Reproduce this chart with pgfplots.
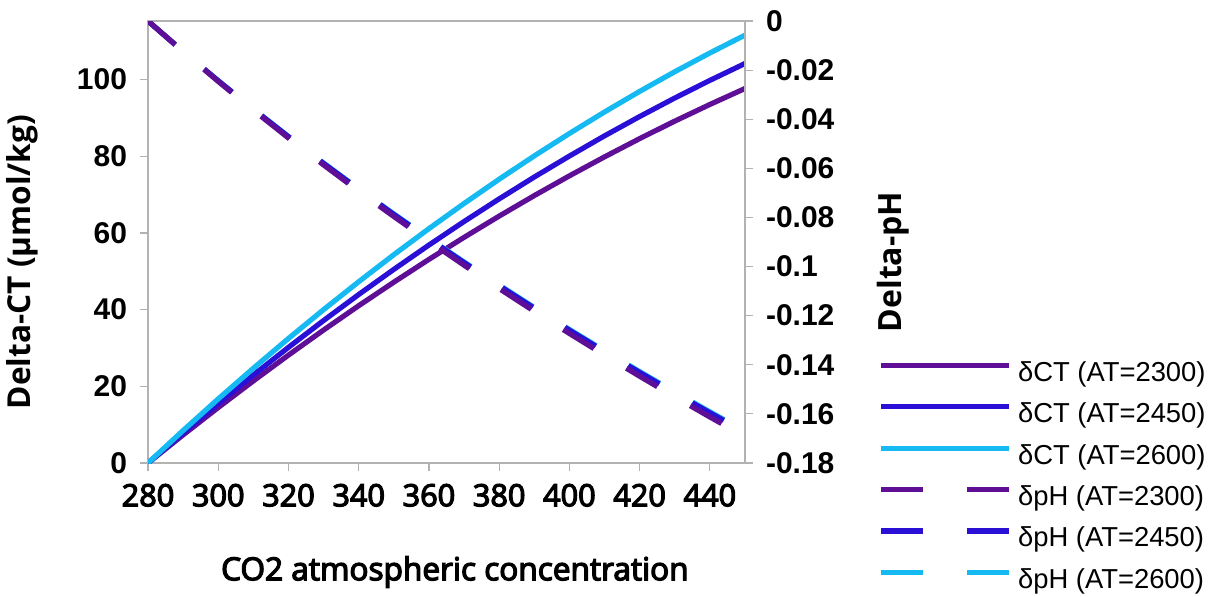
\documentclass[border=0pt]{standalone}
\usepackage{fontspec}
\usepackage{pgfplots}
\usepackage{pgfplotstable}
\pgfplotsset{compat=1.18}
\setmainfont{Liberation Sans}
\newfontfamily\osans{Open Sans}
\newfontfamily\osmed[FakeBold=4]{Open Sans}
\definecolor{cpur}{RGB}{94,15,150}
\definecolor{cblu}{RGB}{42,16,214}
\definecolor{ccya}{RGB}{22,186,242}
\definecolor{axgray}{RGB}{178,178,178}

\pgfplotstableread{
co2 ctp ctb ctc php phb phc
280 0 0 0 0 0 0
290 7.33 7.87 8.48 -0.01252 -0.01239 -0.01236
300 14.47 15.52 16.72 -0.02462 -0.02436 -0.02430
310 21.41 22.95 24.72 -0.03632 -0.03593 -0.03585
320 28.15 30.17 32.49 -0.04765 -0.04714 -0.04703
330 34.69 37.17 40.01 -0.05862 -0.05800 -0.05786
340 41.03 43.95 47.29 -0.06928 -0.06854 -0.06838
350 47.17 50.51 54.34 -0.07962 -0.07877 -0.07858
360 53.12 56.86 61.14 -0.08967 -0.08871 -0.08850
370 58.86 62.99 67.70 -0.09944 -0.09838 -0.09815
380 64.41 68.90 74.03 -0.10896 -0.10780 -0.10754
390 69.76 74.60 80.12 -0.11823 -0.11697 -0.11669
400 74.91 80.07 85.96 -0.12726 -0.12591 -0.12561
410 79.86 85.34 91.57 -0.13607 -0.13462 -0.13430
420 84.62 90.38 96.94 -0.14467 -0.14313 -0.14279
430 89.18 95.21 102.07 -0.15306 -0.15144 -0.15107
440 93.53 99.81 106.96 -0.16127 -0.15956 -0.15917
450 97.69 104.21 111.61 -0.16929 -0.16749 -0.16709
}\datatab

\pgfplotsset{
  common/.style={
    scale only axis,
    width=298.5bp, height=221bp,
    at={(74bp,-10.5bp)}, anchor=north west,
    xmin=280, xmax=450,
    axis line style={draw=axgray, line width=0.6pt},
    major tick style={draw=axgray, line width=0.6pt},
    major tick length=4bp,
    tick align=outside,
  },
  ctline/.style={line width=2.6pt},
  phline/.style={line width=2.6pt, dash pattern=on 18bp off 19bp},
}

\begin{document}
\begin{tikzpicture}
\path[use as bounding box] (0,0) rectangle (609.5bp,-298.5bp);
\begin{axis}[common,
  ymin=0, ymax=115.3,
  xtick={280,300,...,440},
  xticklabels={280,300,320,340,360,380,400,420,440},
  ytick={0,20,...,100},
  yticklabels={0,20,40,60,80,100},
  xtick pos=lower, ytick pos=left,
  xticklabel style={font=\osmed\fontsize{15.3bp}{18bp}\selectfont, yshift=-3bp},
  yticklabel style={font=\bfseries\fontsize{15bp}{18bp}\selectfont, xshift=-3bp},
  xlabel={CO2 atmospheric concentration},
  xlabel style={font=\osmed\fontsize{15.8bp}{19bp}\selectfont, at={(0.514,-0.2466)}, anchor=center},
  ylabel={Delta-CT (µmol/kg)},
  ylabel style={font=\osans\bfseries\fontsize{15.8bp}{19bp}\selectfont, at={(-0.211,0.4548)}, anchor=center, rotate=0},
]
\addplot[ctline, color=cpur] table[x=co2, y=ctp] {\datatab};
\addplot[ctline, color=cblu] table[x=co2, y=ctb] {\datatab};
\addplot[ctline, color=ccya] table[x=co2, y=ctc] {\datatab};
\end{axis}
\begin{axis}[common,
  ymin=-0.18, ymax=0,
  axis y line*=right, axis x line=none,
  ytick={-0.18,-0.16,...,0.001},
  yticklabels={-0.18,-0.16,-0.14,-0.12,-0.1,-0.08,-0.06,-0.04,-0.02,0},
  ytick pos=right,
  yticklabel style={font=\bfseries\fontsize{15bp}{18bp}\selectfont, xshift=3bp},
  ylabel={Delta-pH},
  ylabel style={font=\osans\bfseries\fontsize{16bp}{19bp}\selectfont, at={(1.2479,0.4548)}, anchor=center, rotate=0},
  legend cell align=left,
  legend style={at={(1.2128,0.2398)}, anchor=north west, draw=none, fill=none,
    font=\fontsize{13.7bp}{16bp}\selectfont,
    nodes={inner sep=0pt, text height=10bp, text depth=3bp},
    row sep=7.7bp,
    /tikz/every odd column/.append style={column sep=3.2bp}},
  legend image code/.code={\draw[#1] (0bp,4.5bp) -- (64bp,4.5bp);},
]
\addlegendimage{ctline, color=cpur}
\addlegendentry{δCT (AT=2300)}
\addlegendimage{ctline, color=cblu}
\addlegendentry{δCT (AT=2450)}
\addlegendimage{ctline, color=ccya}
\addlegendentry{δCT (AT=2600)}
\addlegendimage{line width=2.6pt, color=cpur, dash pattern=on 21bp off 22bp}
\addlegendentry{δpH (AT=2300)}
\addlegendimage{line width=2.6pt, color=cblu, dash pattern=on 21bp off 22bp}
\addlegendentry{δpH (AT=2450)}
\addlegendimage{line width=2.6pt, color=ccya, dash pattern=on 21bp off 22bp}
\addlegendentry{δpH (AT=2600)}
\addplot[phline, color=ccya, forget plot] table[x=co2, y=phc] {\datatab};
\addplot[phline, color=cblu, forget plot] table[x=co2, y=phb] {\datatab};
\addplot[phline, color=cpur, forget plot] table[x=co2, y=php] {\datatab};
\end{axis}
\end{tikzpicture}
\end{document}
